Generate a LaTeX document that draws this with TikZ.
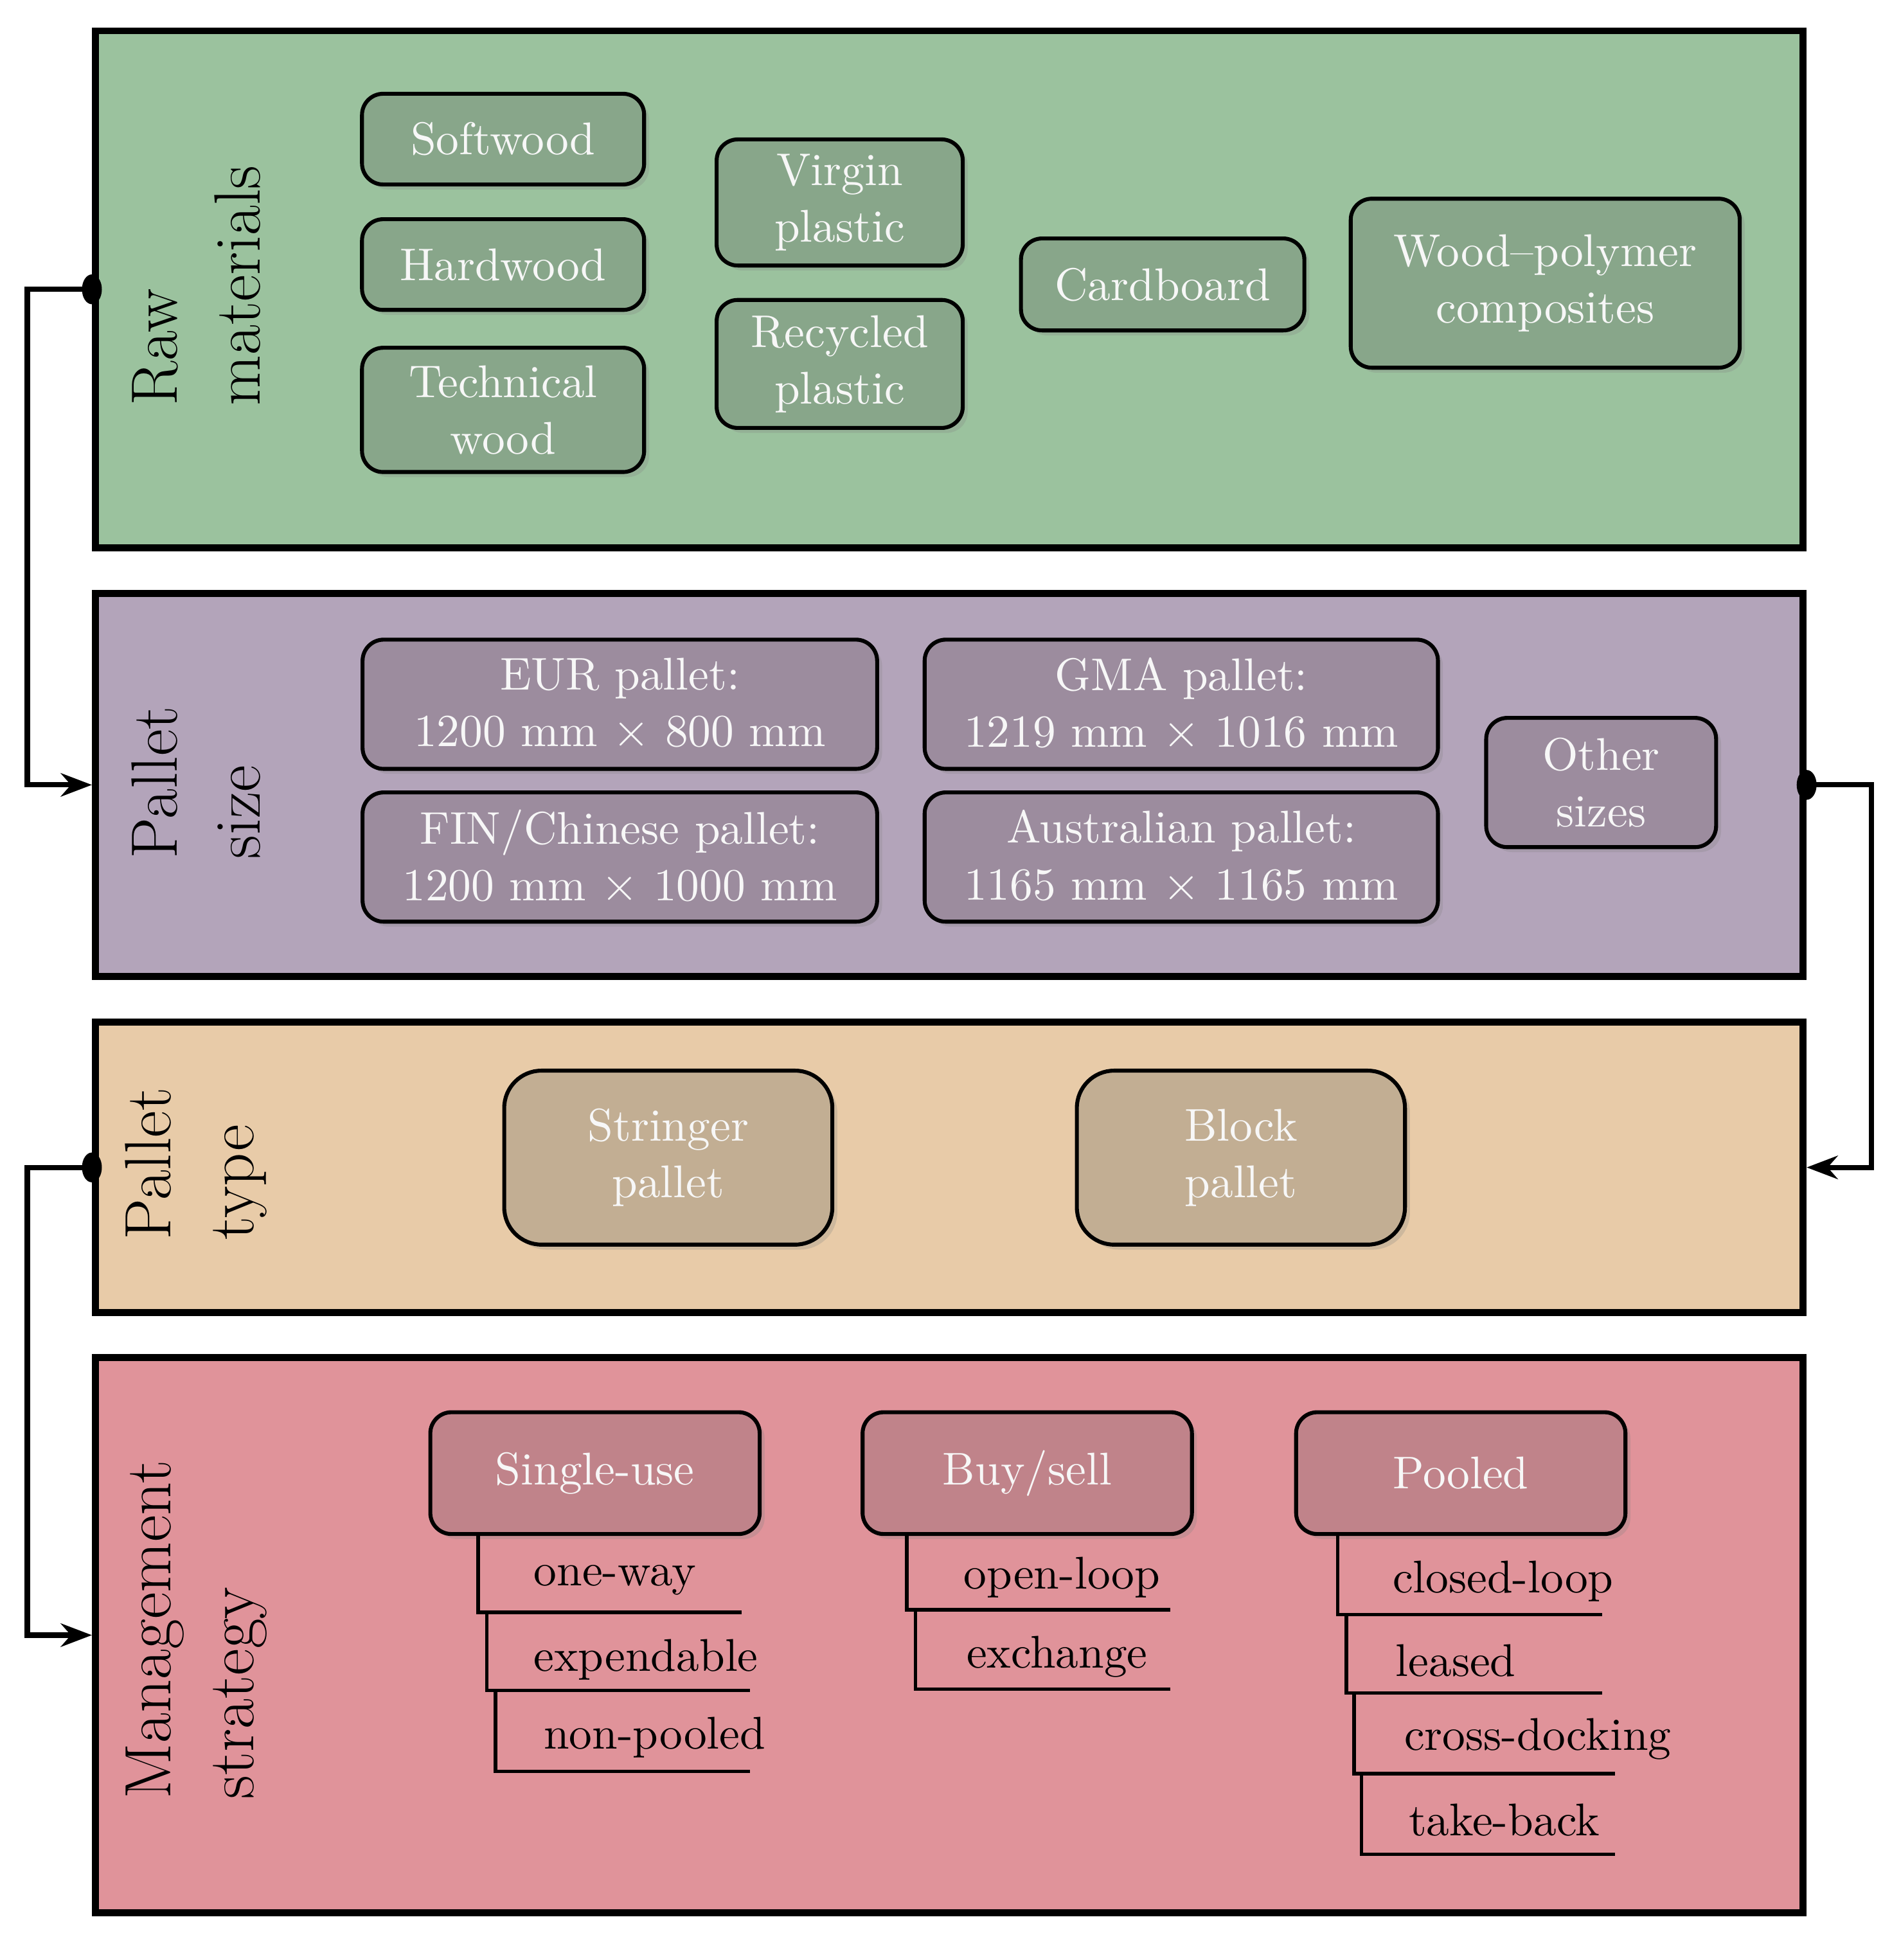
\documentclass[tikz,border=0pt]{standalone}
\usetikzlibrary{positioning,arrows.meta,shadows}

\definecolor{rawbg}{HTML}{9BC29E}
\definecolor{rawbox}{HTML}{88A68A}
\definecolor{sizebg}{HTML}{B3A4BA}
\definecolor{sizebox}{HTML}{9C8C9E}
\definecolor{typebg}{HTML}{E8CBA8}
\definecolor{typebox}{HTML}{C2AE93}
\definecolor{mgmtbg}{HTML}{E0939A}
\definecolor{mgmtbox}{HTML}{C0838A}

\tikzset{
    panel/.style={draw, line width=1.6pt, anchor=north west, inner sep=0pt},
    item/.style={draw, line width=0.9pt, rounded corners=0.17cm, align=center,
        text=white!94!gray, font=\fontsize{10.5}{13}\selectfont,
        drop shadow={opacity=0.25, shadow xshift=0.04cm, shadow yshift=-0.04cm}},
    side/.style={rotate=90, align=left, font=\fontsize{15}{19}\selectfont},
    leaf/.style={font=\fontsize{10.5}{13}\selectfont},
    conn/.style={line width=1.2pt, -{Stealth[length=0.25cm]}},
}

\begin{document}
\begin{tikzpicture}[x=0.01cm,y=-0.01cm]
\useasboundingbox (0,0) rectangle (1530,1578);

% panels
\node[panel, fill=rawbg, minimum width=13.74cm, minimum height=4.16cm] (raw) at (74,22) {};
\node[panel, fill=sizebg, minimum width=13.74cm, minimum height=3.08cm] (size) at (74,475) {};
\node[panel, fill=typebg, minimum width=13.74cm, minimum height=2.34cm] (type) at (74,820) {};
\node[panel, fill=mgmtbg, minimum width=13.74cm, minimum height=4.47cm] (mgmt) at (74,1090) {};

\node[side] (rawlbl) at (158,230) {Raw\\materials};
\node[side] (sizelbl) at (158,630) {Pallet\\size};
\node[side] (typelbl) at (158,937) {Pallet\\type};
\node[side] (mgmtlbl) at (158,1312) {Management\\strategy};

% raw materials
\begin{scope}[every node/.append style={item, fill=rawbox}]
\node[minimum width=2.27cm, minimum height=0.73cm] (soft) at (405,112) {Softwood};
\node[minimum width=2.27cm, minimum height=0.73cm] (hard) at (405,213) {Hardwood};
\node[minimum width=2.27cm, minimum height=1.0cm] (tech) at (405,330) {Technical\\wood};
\node[minimum width=1.98cm, minimum height=1.01cm] (virgin) at (676,163) {Virgin\\plastic};
\node[minimum width=1.98cm, minimum height=1.03cm] (recyc) at (676,293) {Recycled\\plastic};
\node[minimum width=2.28cm, minimum height=0.74cm] (card) at (936,229) {Cardboard};
\node[minimum width=3.13cm, minimum height=1.36cm] (wpc) at (1244,228) {Wood--polymer\\composites};
\end{scope}

% pallet size
\begin{scope}[every node/.append style={item, fill=sizebox, minimum height=1.04cm}]
\node[minimum width=4.14cm] (eur) at (499,567) {EUR pallet:\\1200 mm $\times$ 800 mm};
\node[minimum width=4.13cm] (gma) at (951,567) {GMA pallet:\\1219 mm $\times$ 1016 mm};
\node[minimum width=4.14cm] (fin) at (499,690) {FIN/Chinese pallet:\\1200 mm $\times$ 1000 mm};
\node[minimum width=4.13cm] (aus) at (951,690) {Australian pallet:\\1165 mm $\times$ 1165 mm};
\node[minimum width=1.85cm] (other) at (1289,630) {Other\\sizes};
\end{scope}

% pallet type
\begin{scope}[every node/.append style={item, fill=typebox, minimum width=2.64cm, minimum height=1.4cm, rounded corners=0.3cm}]
\node (stringer) at (538,932) {Stringer\\pallet};
\node (block) at (999,932) {Block\\pallet};
\end{scope}

% management strategy
\begin{scope}[every node/.append style={item, fill=mgmtbox, minimum width=2.65cm, minimum height=0.98cm}]
\node (single) at (479,1186) {Single-use};
\node (buy) at (827,1186) {Buy/sell};
\node (pooled) at (1176,1186) {Pooled};
\end{scope}

\node[leaf] (oneway) at (495,1272) {one-way};
\node[leaf] (expend) at (520,1336) {expendable};
\node[leaf] (nonpool) at (527,1399) {non-pooled};
\node[leaf] (openloop) at (855,1270) {open-loop};
\node[leaf] (exch) at (851,1334) {exchange};
\node[leaf] (closed) at (1210,1273) {closed-loop};
\node[leaf] (leased) at (1172,1337) {leased};
\node[leaf] (cross) at (1238,1400) {cross-docking};
\node[leaf] (takeback) at (1211,1465) {take-back};

\draw[line width=0.8pt]
    (385,1235) |- (597,1298) (392,1298) |- (604,1361) (399,1361) |- (604,1426)
    (730,1235) |- (942,1296) (737,1296) |- (942,1360)
    (1077,1235) |- (1290,1300) (1084,1300) |- (1290,1363)
    (1090,1363) |- (1300,1428) (1096,1428) |- (1300,1493);

% connectors
\draw[conn] (raw.west) -- ++(-52,0) |- (size.west);
\draw[conn] (size.east) -- ++(52,0) |- (type.east);
\draw[conn] (type.west) -- ++(-52,0) |- (mgmt.west);
\fill (raw.west) ellipse (0.08cm and 0.12cm);
\fill (size.east) ellipse (0.08cm and 0.12cm);
\fill (type.west) ellipse (0.08cm and 0.12cm);
\end{tikzpicture}
\end{document}
